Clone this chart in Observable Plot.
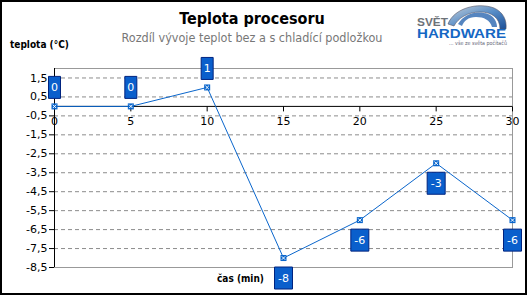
<!DOCTYPE html>
<html>
<head>
<meta charset="utf-8">
<script src="https://cdn.jsdelivr.net/npm/d3@7"></script>
<script src="https://cdn.jsdelivr.net/npm/@observablehq/plot@0.6"></script>
<style>
  body { margin: 0; background: #fff; }
  #wrap { position: relative; width: 528px; height: 296px; overflow: hidden; background: #fff; }
  #border { position: absolute; left: 0; top: 0; width: 527px; height: 295px; box-sizing: border-box; border: 2px solid #000; pointer-events: none; }
  #chart { position: absolute; left: 0; top: 0; }
  .t { position: absolute; white-space: nowrap; font-family: "DejaVu Sans", Verdana, sans-serif; }
  #title { left: 0; width: 504px; top: 9px; text-align: center; font-family: "DejaVu Sans Condensed", "DejaVu Sans", sans-serif; font-weight: bold; font-size: 16px; color: #000; }
  #subtitle { left: 0; width: 504px; top: 30px; text-align: center; font-family: "DejaVu Sans Condensed", "DejaVu Sans", sans-serif; font-size: 12.5px; color: #777; }
  #ytitle { left: 10px; top: 39px; font-family: "DejaVu Sans Condensed", "DejaVu Sans", sans-serif; font-weight: bold; font-size: 10px; color: #000; }
  #xtitle { left: 217px; top: 273px; font-family: "DejaVu Sans Condensed", "DejaVu Sans", sans-serif; font-weight: bold; font-size: 10px; color: #000; }
  #logo { position: absolute; left: 410px; top: 0px; }
</style>
</head>
<body>
<div id="wrap">
  <div id="chart"></div>
  <div class="t" id="title">Teplota procesoru</div>
  <div class="t" id="subtitle">Rozdíl vývoje teplot bez a s chladící podložkou</div>
  <div class="t" id="ytitle">teplota (°C)</div>
  <div class="t" id="xtitle">čas (min)</div>
  <svg id="logo" width="110" height="52" viewBox="410 0 110 52">
    <defs>
      <linearGradient id="sw" x1="0" y1="0" x2="1" y2="1">
        <stop offset="0" stop-color="#c8d0d8"/>
        <stop offset="0.5" stop-color="#5a8fc8"/>
        <stop offset="1" stop-color="#1a4f98"/>
      </linearGradient>
    </defs>
    <path d="M448,24 C454,8 478,2 494,8 C503,12 507,20 506,29 L500,29 C500,18 492,12 480,12 C468,12 458,18 454,26 Z" fill="url(#sw)" stroke="#556" stroke-width="0.6"/>
    <path d="M458,24 C464,14 476,10 488,14 C494,16 497,22 497,27 L492,27 C490,20 484,17 476,17 C468,17 464,21 462,26 Z" fill="#2a67b0" opacity="0.8"/>
    <text x="417" y="26" font-family="Liberation Sans, Arial, sans-serif" font-weight="bold" font-size="11.5" fill="#6d7278" textLength="31" lengthAdjust="spacingAndGlyphs">SVĚT</text>
    <text x="417" y="37.5" font-family="Liberation Sans, Arial, sans-serif" font-weight="bold" font-size="12.5" fill="#1567c4" textLength="89" lengthAdjust="spacingAndGlyphs">HARDWARE</text>
    <text x="449" y="45" font-family="DejaVu Sans Condensed, sans-serif" font-size="5.5" fill="#667" textLength="58" lengthAdjust="spacingAndGlyphs">... vše ze světa počítačů</text>
  </svg>
  <div id="border"></div>
</div>
<script>
// ---- data ----
const times = [0, 5, 10, 15, 20, 25, 30];
const tempDiff = [0, 0, 1, -8, -6, -3, -6];
const pointLabels = ["0", "0", "1", "-8", "-6", "-3", "-6"];
const xTicks = [0, 5, 10, 15, 20, 25, 30];
const yTicks = [1.5, 0.5, -0.5, -1.5, -2.5, -3.5, -4.5, -5.5, -6.5, -7.5, -8.5];

const data = times.map((t, i) => ({x: t, y: tempDiff[i], label: pointLabels[i]}));

const blue = "#0a66cc";
const boxFill = "#0a5fcc";
const boxStroke = "#00237f";

const box = (w, h) => ({draw(ctx) { ctx.rect(-w / 2, -h / 2, w, h); }});
const tickDown = {draw(ctx) { ctx.moveTo(0, 0); ctx.lineTo(0, 5); }};

const fmt = d => String(d).replace(".", ",");

const chart = Plot.plot({
  width: 528,
  height: 296,
  marginLeft: 54,
  marginRight: 16,
  marginTop: 68,
  marginBottom: 29,
  style: {fontFamily: "DejaVu Sans, Verdana, sans-serif", fontSize: "11px", background: "transparent", color: "#000"},
  x: {domain: [0, 30], axis: null},
  y: {domain: [-8.5, 2]},
  marks: [
    Plot.gridY(yTicks, {stroke: "#8c8c8c", strokeOpacity: 1, strokeDasharray: "4,3"}),
    Plot.frame({stroke: "#999"}),
    Plot.ruleY([0], {stroke: "#000"}),
    Plot.ruleX([0], {stroke: "#000"}),
    Plot.axisY({ticks: yTicks, tickFormat: fmt, tickSize: 5, tickPadding: 2, fontSize: 11, label: null, stroke: "#000", color: "#000"}),
    Plot.dot(xTicks, {x: d => d, y: () => 0, symbol: tickDown, fill: "none", stroke: "#000", strokeWidth: 1}),
    Plot.text(xTicks, {x: d => d, y: () => 0, dy: 15, text: d => String(d), fontSize: 11, fill: "#000"}),
    Plot.line(data, {x: "x", y: "y", stroke: blue, strokeWidth: 1}),
    Plot.dot(data, {x: "x", y: "y", symbol: "square", r: 3.4, fill: blue, stroke: "none"}),
    Plot.dot(data, {x: "x", y: "y", symbol: "times", r: 1.7, stroke: "#fff", strokeWidth: 1, fill: "none"}),
    Plot.dot(data.filter(d => d.y >= 0), {x: "x", y: "y", dy: -19, symbol: box(12, 22), fill: boxFill, stroke: boxStroke, strokeWidth: 1}),
    Plot.text(data.filter(d => d.y >= 0), {x: "x", y: "y", dy: -19, text: "label", fill: "#fff", fontSize: 11}),
    Plot.dot(data.filter(d => d.y < 0), {x: "x", y: "y", dy: 20, symbol: box(18, 22), fill: boxFill, stroke: boxStroke, strokeWidth: 1}),
    Plot.text(data.filter(d => d.y < 0), {x: "x", y: "y", dy: 20, text: "label", fill: "#fff", fontSize: 11})
  ]
});
document.getElementById("chart").appendChild(chart);
</script>
</body>
</html>
